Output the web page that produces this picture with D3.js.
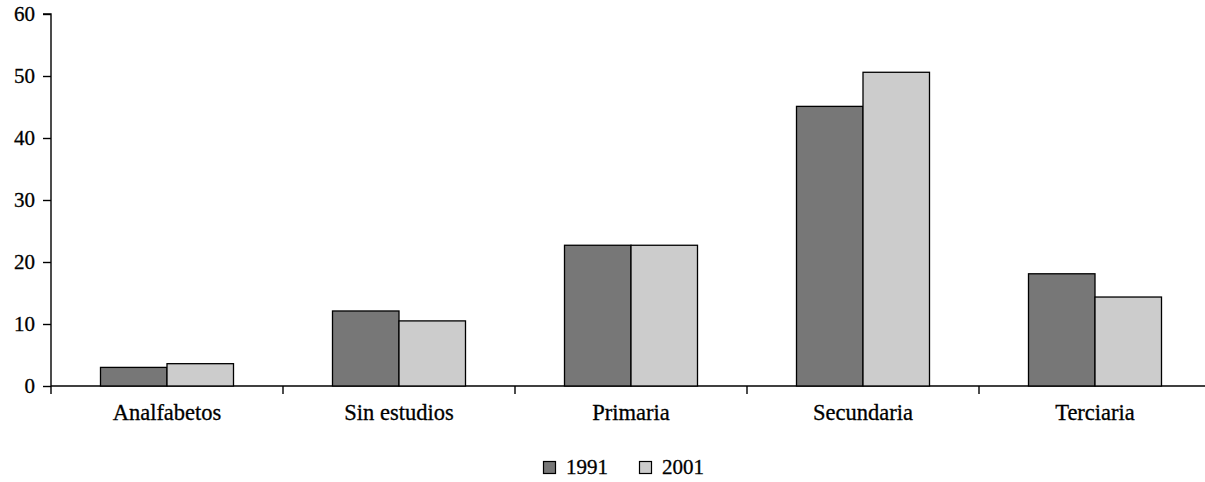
<!DOCTYPE html>
<html><head><meta charset="utf-8">
<script src="https://cdn.jsdelivr.net/npm/d3@7/dist/d3.min.js"></script>
<style>body{margin:0;background:#fff}svg{display:block}text{font-family:"Liberation Serif",serif;fill:#000}</style>
</head><body><svg id="c" width="1205" height="482"></svg>
<script>
const categories = ["Analfabetos","Sin estudios","Primaria","Secundaria","Terciaria"];
const seriesNames = ["1991","2001"];
const values1991 = [3.0, 12.1, 22.7, 45.1, 18.1];
const values2001 = [3.6, 10.5, 22.7, 50.6, 14.35];
const yTicks = [0,10,20,30,40,50,60];
const colors = ["#777777","#cccccc"];

(function(){
const svg = d3.select("#c");
const mLeft = 51, mTop = 14, mBottom = 386, bandW = 232;
const FS = 21, FSX = 22.5;
const x = d3.scaleBand().domain(categories).range([mLeft, mLeft + bandW*categories.length]);
const y = d3.scaleLinear().domain([0,60]).range([mBottom, mTop]);
const sub = d3.scaleBand().domain(seriesNames).range([0, 133]);

// y axis
const ya = svg.append("g").attr("transform",`translate(${mLeft},0)`)
  .call(d3.axisLeft(y).tickValues(yTicks).tickSize(8).tickPadding(8));
ya.select(".domain").attr("stroke","#000").attr("stroke-width",1.4).attr("d",`M-8,${mTop}H0V${mBottom+8}`);
ya.selectAll(".tick line").attr("stroke","#000").attr("stroke-width",1.4);
ya.selectAll(".tick text").attr("font-size",FS).attr("fill","#000").style("font-family","Liberation Serif")
  .attr("stroke","#000").attr("stroke-width",0.3);

// x axis
const xa = svg.append("g").attr("transform",`translate(0,${mBottom})`)
  .call(d3.axisBottom(x).tickSize(0).tickPadding(18));
xa.select(".domain").attr("stroke","#000").attr("stroke-width",1.4).attr("d",`M${mLeft},0H1205`);
xa.selectAll(".tick text").attr("font-size",FSX).attr("fill","#000").style("font-family","Liberation Serif")
  .attr("stroke","#000").attr("stroke-width",0.3);
// category separator ticks
const seps = categories.slice(1).map(c => x(c));
svg.append("g").selectAll("line").data(seps).join("line")
  .attr("x1",d=>d).attr("x2",d=>d).attr("y1",mBottom).attr("y2",mBottom+8)
  .attr("stroke","#000").attr("stroke-width",1.4);

const data = [values1991, values2001];
seriesNames.forEach((s,i)=>{
  svg.append("g").selectAll("rect").data(categories).join("rect")
    .attr("x",c=>x(c)+(bandW-133)/2+sub(s))
    .attr("width",sub.bandwidth())
    .attr("y",(c,j)=>y(data[i][j]))
    .attr("height",(c,j)=>mBottom-y(data[i][j]))
    .attr("fill",colors[i]).attr("stroke","#000").attr("stroke-width",1.3);
});

// legend
const leg = svg.append("g");
const lx = [543, 639];
seriesNames.forEach((s,i)=>{
  leg.append("rect").attr("x",lx[i]+0.5).attr("y",461.5).attr("width",12).attr("height",12)
    .attr("fill",colors[i]).attr("stroke","#000").attr("stroke-width",1.2);
  leg.append("text").attr("x",lx[i]+23).attr("y",474).attr("font-size",FS)
    .attr("stroke","#000").attr("stroke-width",0.3).text(s);
});
})();
</script></body></html>
